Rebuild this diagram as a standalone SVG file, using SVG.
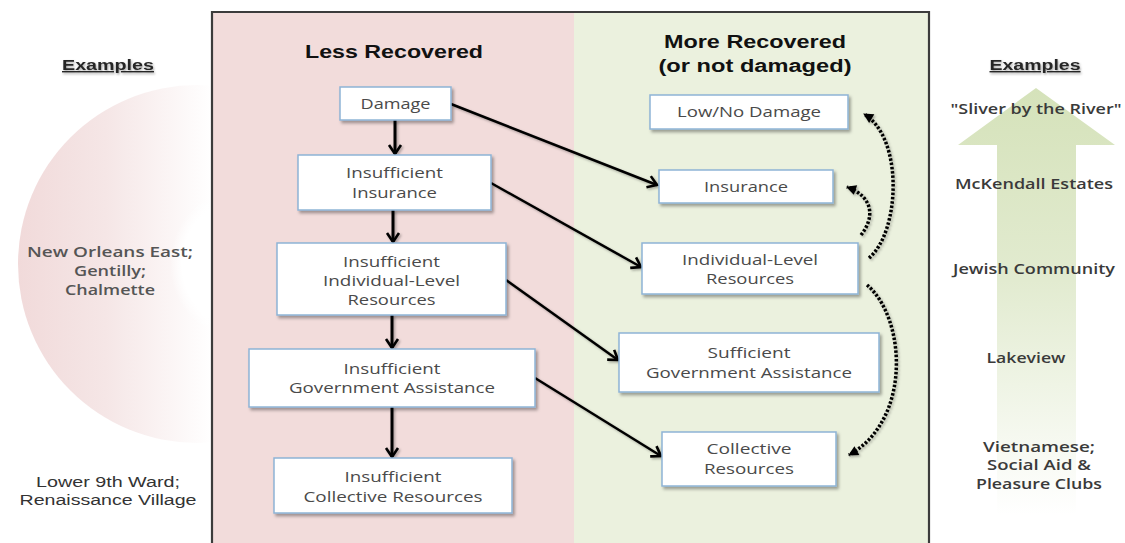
<svg xmlns="http://www.w3.org/2000/svg" width="1125" height="543" viewBox="0 0 1125 543">
<defs>
<linearGradient id="diskGrad" gradientUnits="userSpaceOnUse" x1="18" y1="0" x2="212" y2="0">
<stop offset="0" stop-color="#F1DADA"/>
<stop offset="0.45" stop-color="#F5E6E6"/>
<stop offset="1" stop-color="#FFFFFF"/>
</linearGradient>
<radialGradient id="innerGrad" gradientUnits="userSpaceOnUse" cx="250" cy="264" r="80">
<stop offset="0.85" stop-color="#FFFFFF" stop-opacity="1"/>
<stop offset="1" stop-color="#FFFFFF" stop-opacity="0"/>
</radialGradient>
<linearGradient id="arrowGrad" gradientUnits="userSpaceOnUse" x1="0" y1="88" x2="0" y2="515">
<stop offset="0" stop-color="#D5E2BA"/>
<stop offset="0.45" stop-color="#E2EBD0"/>
<stop offset="1" stop-color="#FFFFFF"/>
</linearGradient>
<filter id="boxShadow" x="-10%" y="-20%" width="125%" height="150%">
<feDropShadow dx="2" dy="2.5" stdDeviation="1.5" flood-color="#000000" flood-opacity="0.35"/>
</filter>
<filter id="lineShadow" x="-10%" y="-10%" width="130%" height="130%">
<feDropShadow dx="1.5" dy="1.5" stdDeviation="1" flood-color="#000000" flood-opacity="0.3"/>
</filter>
<filter id="textShadow" x="-10%" y="-30%" width="130%" height="180%">
<feDropShadow dx="1" dy="1.5" stdDeviation="0.8" flood-color="#000000" flood-opacity="0.35"/>
</filter>
<marker id="vhead" markerUnits="userSpaceOnUse" markerWidth="16" markerHeight="16" refX="10" refY="7" orient="auto" overflow="visible">
<path d="M1,1 L10,7 L1,13" fill="none" stroke="#000000" stroke-width="2.6" stroke-linejoin="miter"/>
</marker>
<marker id="dhead" markerUnits="userSpaceOnUse" markerWidth="12" markerHeight="12" refX="9" refY="5" orient="auto" overflow="visible">
<path d="M0,0 L10,5 L0,10 Z" fill="#000000"/>
</marker>
<style>
.box { fill: #FFFFFF; stroke: #8EB4D6; stroke-width: 1.5; filter: url(#boxShadow); }
.bt { font-family: "Open Sans", "Liberation Sans", sans-serif; font-size: 14.5px; fill: #4A4A4A; text-anchor: middle; }
.hd { font-family: "Liberation Sans", Arial, sans-serif; font-weight: bold; font-size: 18px; fill: #111111; text-anchor: middle; }
.ex { font-family: "Liberation Sans", Arial, sans-serif; font-weight: bold; font-size: 14px; fill: #262626; text-anchor: middle; text-decoration: underline; filter: url(#textShadow); }
.lt { font-family: "Open Sans", "Liberation Sans", sans-serif; font-weight: 600; font-size: 14px; fill: #555555; text-anchor: middle; }
.la { font-family: "Liberation Sans", Arial, sans-serif; font-size: 14px; fill: #333333; text-anchor: middle; }
.rt { font-family: "Open Sans", "Liberation Sans", sans-serif; font-weight: 600; font-size: 14px; fill: #3A3A3A; text-anchor: middle; }
.solid { fill: none; stroke: #000000; stroke-width: 2.5; marker-end: url(#vhead); }
.vert { fill: none; stroke: #000000; stroke-width: 3; marker-end: url(#vhead); }
.dot { fill: none; stroke: #000000; stroke-width: 3.5; stroke-dasharray: 2.5 1.8; marker-end: url(#dhead); }
</style>
</defs>

<rect x="0" y="0" width="1125" height="543" fill="#FFFFFF"/>

<g id="left-backdrop">
<circle cx="197" cy="264" r="179" fill="url(#diskGrad)"/>
<circle cx="250" cy="264" r="80" fill="url(#innerGrad)"/>
</g>

<g id="right-arrow">
<polygon points="1036,88 1115,145 1076,145 1076,515 997,515 997,145 958,145" fill="url(#arrowGrad)"/>
</g>

<g id="frame">
<rect x="212" y="12" width="362" height="540" fill="#F2DCDB"/>
<rect x="574" y="12" width="355" height="540" fill="#EBF1DE"/>
<path d="M212,560 L212,12 L929,12 L929,560" fill="none" stroke="#3C3C3C" stroke-width="2.2"/>
</g>

<g id="headers">
<text class="hd" x="394" y="58" textLength="178" lengthAdjust="spacingAndGlyphs">Less Recovered</text>
<text class="hd" x="755" y="48" textLength="182" lengthAdjust="spacingAndGlyphs">More Recovered</text>
<text class="hd" x="755" y="72" textLength="193" lengthAdjust="spacingAndGlyphs">(or not damaged)</text>
</g>

<g id="left-examples">
<text class="ex" x="108" y="70" textLength="92" lengthAdjust="spacingAndGlyphs">Examples</text>
<text class="lt" x="110" y="257" textLength="166" lengthAdjust="spacingAndGlyphs">New Orleans East;</text>
<text class="lt" x="110" y="276" textLength="72" lengthAdjust="spacingAndGlyphs">Gentilly;</text>
<text class="lt" x="110" y="295" textLength="90" lengthAdjust="spacingAndGlyphs">Chalmette</text>
<text class="la" x="108" y="487" textLength="144" lengthAdjust="spacingAndGlyphs">Lower 9th Ward;</text>
<text class="la" x="108" y="505" textLength="177" lengthAdjust="spacingAndGlyphs">Renaissance Village</text>
</g>

<g id="right-examples">
<text class="ex" x="1035" y="70" textLength="91" lengthAdjust="spacingAndGlyphs">Examples</text>
<text class="rt" x="1036" y="114" textLength="171" lengthAdjust="spacingAndGlyphs">"Sliver by the River"</text>
<text class="rt" x="1034" y="189" textLength="158" lengthAdjust="spacingAndGlyphs">McKendall Estates</text>
<text class="rt" x="1034" y="274" textLength="162" lengthAdjust="spacingAndGlyphs">Jewish Community</text>
<text class="rt" x="1026" y="363" textLength="79" lengthAdjust="spacingAndGlyphs">Lakeview</text>
<text class="rt" x="1039" y="452" textLength="112" lengthAdjust="spacingAndGlyphs">Vietnamese;</text>
<text class="rt" x="1039" y="470" textLength="104" lengthAdjust="spacingAndGlyphs">Social Aid &amp;</text>
<text class="rt" x="1039" y="489" textLength="126" lengthAdjust="spacingAndGlyphs">Pleasure Clubs</text>
</g>

<g id="connectors" filter="url(#lineShadow)">
<line class="vert" x1="395" y1="120" x2="395" y2="154"/>
<line class="vert" x1="393" y1="210" x2="393" y2="242"/>
<line class="vert" x1="392" y1="315" x2="392" y2="348"/>
<line class="vert" x1="392" y1="407" x2="392" y2="457"/>
<line class="solid" x1="451" y1="104" x2="657" y2="185"/>
<line class="solid" x1="491" y1="183" x2="641" y2="267"/>
<line class="solid" x1="506" y1="280" x2="618" y2="360"/>
<line class="solid" x1="535" y1="378" x2="661" y2="456"/>
<path class="dot" d="M869,258 C900,232 904,138 864,114"/>
<path class="dot" d="M861,235 C876,216 872,196 847,187"/>
<path class="dot" d="M867,285 C906,318 912,420 849,455"/>
</g>

<g id="node-damage">
<rect class="box" x="340" y="87" width="111" height="33"/>
<text class="bt" x="395.5" y="109" textLength="70" lengthAdjust="spacingAndGlyphs">Damage</text>
</g>
<g id="node-insufficient-insurance">
<rect class="box" x="298" y="155" width="193" height="55"/>
<text class="bt" x="394.5" y="178" textLength="97" lengthAdjust="spacingAndGlyphs">Insufficient</text>
<text class="bt" x="394.5" y="198" textLength="85" lengthAdjust="spacingAndGlyphs">Insurance</text>
</g>
<g id="node-insufficient-individual">
<rect class="box" x="277" y="243" width="229" height="72"/>
<text class="bt" x="391.5" y="267" textLength="97" lengthAdjust="spacingAndGlyphs">Insufficient</text>
<text class="bt" x="391.5" y="286" textLength="137" lengthAdjust="spacingAndGlyphs">Individual-Level</text>
<text class="bt" x="391.5" y="305" textLength="88" lengthAdjust="spacingAndGlyphs">Resources</text>
</g>
<g id="node-insufficient-government">
<rect class="box" x="249" y="349" width="286" height="58"/>
<text class="bt" x="392" y="374" textLength="97" lengthAdjust="spacingAndGlyphs">Insufficient</text>
<text class="bt" x="392" y="393" textLength="206" lengthAdjust="spacingAndGlyphs">Government Assistance</text>
</g>
<g id="node-insufficient-collective">
<rect class="box" x="274" y="458" width="238" height="55"/>
<text class="bt" x="393" y="482" textLength="97" lengthAdjust="spacingAndGlyphs">Insufficient</text>
<text class="bt" x="393" y="502" textLength="179" lengthAdjust="spacingAndGlyphs">Collective Resources</text>
</g>

<g id="node-low-no-damage">
<rect class="box" x="650" y="95" width="198" height="34"/>
<text class="bt" x="749" y="117" textLength="144" lengthAdjust="spacingAndGlyphs">Low/No Damage</text>
</g>
<g id="node-insurance">
<rect class="box" x="659" y="170" width="174" height="33"/>
<text class="bt" x="746" y="192" textLength="84" lengthAdjust="spacingAndGlyphs">Insurance</text>
</g>
<g id="node-individual">
<rect class="box" x="642" y="243" width="216" height="51"/>
<text class="bt" x="750" y="265" textLength="136" lengthAdjust="spacingAndGlyphs">Individual-Level</text>
<text class="bt" x="750" y="284" textLength="88" lengthAdjust="spacingAndGlyphs">Resources</text>
</g>
<g id="node-sufficient-government">
<rect class="box" x="619" y="333" width="260" height="59"/>
<text class="bt" x="749" y="358" textLength="83" lengthAdjust="spacingAndGlyphs">Sufficient</text>
<text class="bt" x="749" y="378" textLength="206" lengthAdjust="spacingAndGlyphs">Government Assistance</text>
</g>
<g id="node-collective">
<rect class="box" x="662" y="432" width="174" height="54"/>
<text class="bt" x="749" y="454" textLength="85" lengthAdjust="spacingAndGlyphs">Collective</text>
<text class="bt" x="749" y="474" textLength="90" lengthAdjust="spacingAndGlyphs">Resources</text>
</g>
</svg>
